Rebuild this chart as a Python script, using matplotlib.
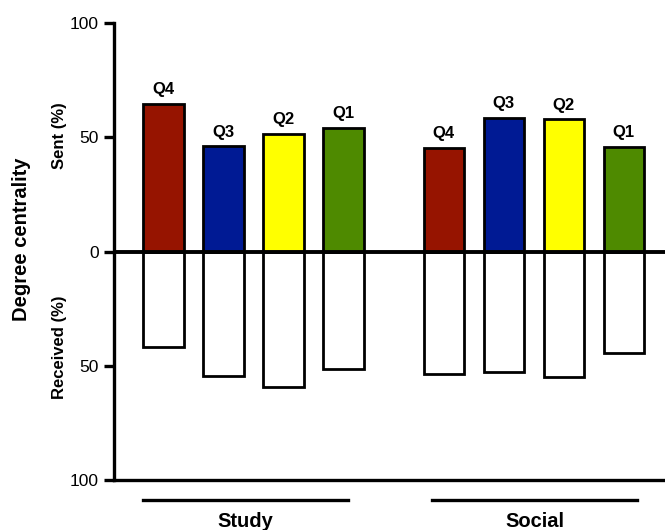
import numpy as np
import matplotlib
matplotlib.use('Agg')
import matplotlib.pyplot as plt

plt.rcParams['font.family'] = ['Liberation Sans', 'DejaVu Sans']

groups = ['Study', 'Social']
quartiles = ['Q4', 'Q3', 'Q2', 'Q1']
colors = ['#961400', '#001A94', '#FFFF00', '#4E8A00']

sent = {
    'Study': [64.5, 46.0, 51.4, 53.9],
    'Social': [45.2, 58.3, 57.8, 45.9],
}
received = {
    'Study': [41.7, 54.4, 59.2, 51.5],
    'Social': [53.5, 52.8, 55.0, 44.4],
}

fig = plt.figure(figsize=(6.65, 5.3), dpi=100)
ax = fig.add_axes([0.1714, 0.0943, 0.8286, 0.8623])

width = 0.68
gap = 0.675
line_spans = [(-0.34, 3.075), (-0.2, 3.22)]

for g, name in enumerate(groups):
    x = g * (4 + gap) + np.arange(4)
    ax.bar(x, sent[name], width, color=colors, edgecolor='black', linewidth=2, zorder=2)
    ax.bar(x, -np.array(received[name]), width, color='white', edgecolor='black',
           linewidth=2, zorder=2)
    for xi, v, q in zip(x, sent[name], quartiles):
        ax.text(xi, v + 3, q, ha='center', va='bottom', fontsize=12, fontweight='bold')
    x0 = g * (4 + gap) + line_spans[g][0]
    x1 = g * (4 + gap) + line_spans[g][1]
    ax.plot([x0, x1], [-0.044, -0.044], color='black', lw=2.4,
            transform=ax.get_xaxis_transform(), clip_on=False)
    ax.text((x0 + x1) / 2, -0.071, name, ha='center', va='top', fontsize=14.5,
            fontweight='bold', transform=ax.get_xaxis_transform())

ax.axhline(0, color='black', lw=2.8, zorder=3)

ax.set_xlim(-0.825, 8.36)
ax.set_ylim(-100, 100)
ax.set_yticks([100, 50, 0, -50, -100])
ax.set_yticklabels(['100', '50', '0', '50', '100'], fontsize=12.5)
ax.set_xticks([])
ax.spines['top'].set_visible(False)
ax.spines['right'].set_visible(False)
ax.spines['left'].set_linewidth(2.4)
ax.spines['bottom'].set_linewidth(2.4)
ax.tick_params(axis='y', length=7, width=2.4, direction='out', pad=4)

fig.text(0.033, 0.548, 'Degree centrality', rotation=90, ha='center', va='center',
         fontsize=14.5, fontweight='bold')
fig.text(0.09, 0.745, 'Sent (%)', rotation=90, ha='center', va='center',
         fontsize=12, fontweight='bold')
fig.text(0.09, 0.344, 'Received (%)', rotation=90, ha='center', va='center',
         fontsize=12, fontweight='bold')

fig.savefig('out.png', dpi=100)
